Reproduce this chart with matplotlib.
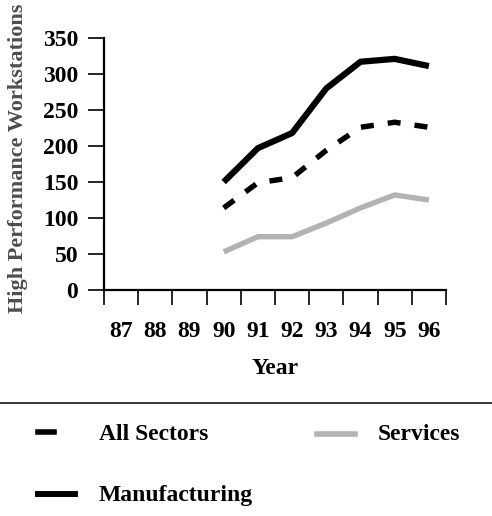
import matplotlib
matplotlib.use("Agg")
import matplotlib.pyplot as plt
import numpy as np
from matplotlib.lines import Line2D

years = ["87", "88", "89", "90", "91", "92", "93", "94", "95", "96"]
data_years = ["90", "91", "92", "93", "94", "95", "96"]
manufacturing = [150, 197, 218, 280, 317, 321, 311]
all_sectors = [114, 149, 156, 194, 226, 233, 226]
services = [53, 74, 74, 93, 114, 132, 125]
y_ticks = [0, 50, 100, 150, 200, 250, 300, 350]

plt.rcParams['font.family'] = ['Liberation Serif', 'DejaVu Serif']
plt.rcParams['font.weight'] = 'bold'

fig = plt.figure(figsize=(4.92, 5.16), dpi=100)
ax = fig.add_axes([104 / 492, 1 - 290 / 516, (446 - 104) / 492, (290 - 38) / 516])

# позиция категории — центр интервала между делениями
xpos = np.array([years.index(y) for y in data_years]) + 0.5
ax.plot(xpos, manufacturing, color='black', lw=4.5, solid_capstyle='butt')
ax.plot(xpos, all_sectors, color='black', lw=3.9, linestyle=(0, (2.4, 2.6)),
        dash_capstyle='butt')
ax.plot(xpos, services, color='#b3b3b3', lw=3.9, solid_capstyle='butt')

ax.set_xlim(0, len(years))
ax.set_ylim(0, 350)
ax.set_yticks(y_ticks)
ax.set_yticklabels([str(v) for v in y_ticks])
ax.set_xticks(np.arange(len(years) + 1))
ax.set_xticklabels([])
ax.set_xticks(np.arange(len(years)) + 0.5, minor=True)
ax.set_xticklabels(years, minor=True)

for s in ['top', 'right']:
    ax.spines[s].set_visible(False)
for s in ['left', 'bottom']:
    ax.spines[s].set_linewidth(1.6)

ax.tick_params(axis='y', which='major', direction='out', length=11.5, width=1.2,
               pad=7, labelsize=17)
ax.tick_params(axis='x', which='major', direction='out', length=11, width=1.2)
ax.tick_params(axis='x', which='minor', length=0, pad=22, labelsize=17)

ax.set_xlabel("Year", fontsize=17, fontweight='bold', labelpad=12)
fig.text(18 / 492, 1 - 158 / 516, "High Performance Workstations", rotation=90,
         ha='center', va='center', fontsize=16, fontweight='bold', color='#4d4d4d')

# разделитель и легенда
fig.add_artist(Line2D([0, 1], [1 - 403 / 516] * 2, color='black', lw=1.1))
fig.add_artist(Line2D([38 / 492, 54 / 492], [1 - 432 / 516] * 2, color='black', lw=4))
fig.add_artist(Line2D([317 / 492, 355 / 492], [1 - 434 / 516] * 2, color='#b3b3b3', lw=4))
fig.add_artist(Line2D([38 / 492, 75 / 492], [1 - 494 / 516] * 2, color='black', lw=4.3))
fig.text(99 / 492, 1 - 434 / 516, "All Sectors", fontsize=17, fontweight='bold', va='center')
fig.text(378 / 492, 1 - 434 / 516, "Services", fontsize=17, fontweight='bold', va='center')
fig.text(99 / 492, 1 - 496 / 516, "Manufacturing", fontsize=17, fontweight='bold', va='center')

fig.savefig("out.png", dpi=100)
